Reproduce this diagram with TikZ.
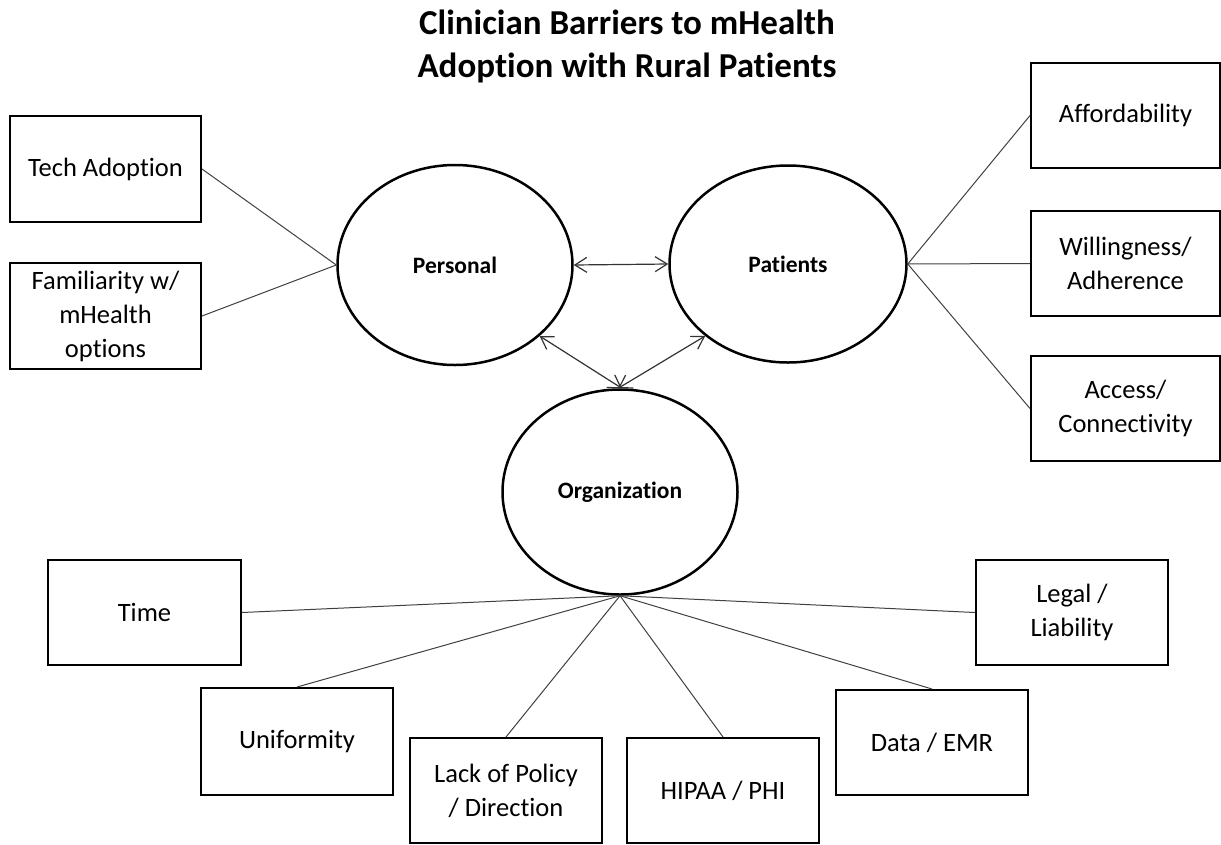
\documentclass[tikz,border=0pt]{standalone}
\usepackage{fontspec}
\setmainfont{Carlito}[Ligatures={NoCommon}]
\usetikzlibrary{arrows.meta,shapes.geometric}
\begin{document}
\begin{tikzpicture}[x=1pt,y=-1pt,
  box/.style={draw=black,line width=2pt,minimum width=191pt,minimum height=106pt,inner sep=2pt,align=center,font=\fontsize{26.5}{34}\selectfont},
  oval/.style={draw=black,line width=2.5pt,ellipse,inner sep=0pt,font=\fontsize{23.5}{28}\selectfont\bfseries},
  link/.style={draw=black!75,line width=1pt},
  dbl/.style={draw=black!80,line width=1.2pt,{Straight Barb[length=12pt,width=15pt]}-{Straight Barb[length=12pt,width=15pt]}}]
\useasboundingbox (0,0) rectangle (1221,844);
\node[font=\fontsize{35}{43}\selectfont\bfseries,align=center] (title) at (627,46) {Clinician Barriers to mHealth\\Adoption with Rural Patients};
\node[oval,minimum width=235pt,minimum height=200pt] (pers) at (455,265) {Personal};
\node[oval,minimum width=237pt,minimum height=197pt] (pat) at (788,264) {Patients};
\node[oval,minimum width=235pt,minimum height=205pt] (org) at (620,492) {Organization};
\node[box] (tech) at (105.5,169) {Tech Adoption};
\node[box] (fam) at (105.5,316) {Familiarity w/\\mHealth\\options};
\node[box,minimum width=189pt,minimum height=105pt] (aff) at (1125.5,115.5) {Affordability};
\node[box,minimum width=189pt,minimum height=105pt] (will) at (1125.5,263.5) {Willingness/\\Adherence};
\node[box,minimum width=189pt,minimum height=105pt] (acc) at (1125.5,408.5) {Access/\\Connectivity};
\node[box,minimum width=193pt,minimum height=105pt] (time) at (144.5,612.5) {Time};
\node[box,minimum width=192pt,minimum height=107pt] (uni) at (297,741.5) {Uniformity};
\node[box,minimum width=192pt,minimum height=105pt] (lack) at (506,790.5) {Lack of Policy\\/ Direction};
\node[box,minimum width=192pt,minimum height=105pt] (hipaa) at (723,790.5) {HIPAA / PHI};
\node[box,minimum width=192pt,minimum height=105pt] (data) at (932,742.5) {Data / EMR};
\node[box,minimum width=192pt,minimum height=105pt] (legal) at (1072,612.5) {Legal /\\Liability};
\draw[link] (tech.east) -- (pers.west);
\draw[link] (fam.east) -- (pers.west);
\draw[link] (pat.east) -- (aff.west);
\draw[link] (pat.east) -- (will.west);
\draw[link] (pat.east) -- (acc.west);
\draw[link] (org.south) -- (time.east);
\draw[link] (org.south) -- (uni.north);
\draw[link] (org.south) -- (lack.north);
\draw[link] (org.south) -- (hipaa.north);
\draw[link] (org.south) -- (data.north);
\draw[link] (org.south) -- (legal.west);
\draw[dbl] (pers.east) -- (pat.west);
\draw[dbl] (pers.-40) -- (org.89);
\draw[dbl] (pat.-139) -- (org.91);
\end{tikzpicture}
\end{document}
